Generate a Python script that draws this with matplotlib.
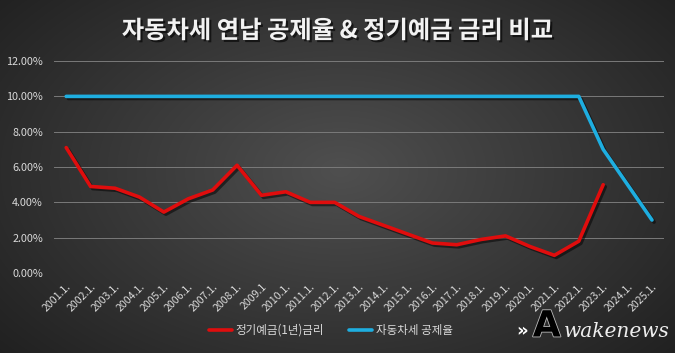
import numpy as np
import matplotlib as mpl
mpl.use("Agg")
import matplotlib.pyplot as plt
import matplotlib.patheffects as pe
from matplotlib.ticker import PercentFormatter

plt.rcParams["font.family"] = ["Noto Sans CJK KR", "DejaVu Sans"]

# --- data ---
years = ["2001.1.", "2002.1.", "2003.1.", "2004.1.", "2005.1.", "2006.1.",
         "2007.1.", "2008.1.", "2009.1", "2010.1.", "2011.1.", "2012.1.",
         "2013.1.", "2014.1.", "2015.1.", "2016.1.", "2017.1.", "2018.1.",
         "2019.1.", "2020.1.", "2021.1.", "2022.1.", "2023.1.", "2024.1.",
         "2025.1."]
deposit_rate = [7.1, 4.9, 4.8, 4.3, 3.45, 4.2, 4.7, 6.1, 4.4, 4.6, 4.0, 4.0,
                3.2, 2.7, 2.2, 1.7, 1.6, 1.9, 2.1, 1.5, 1.0, 1.8, 5.0,
                np.nan, np.nan]
car_tax_discount = [10.0] * 22 + [7.0, 5.0, 3.0]

RED = "#e00d0d"
BLUE = "#1eaee0"
TXT = "#d9d9d9"

fig = plt.figure(figsize=(6.75, 3.53), dpi=100)

# dark radial background
bg = fig.add_axes([0, 0, 1, 1], zorder=-10)
yy, xx = np.mgrid[0:353, 0:675]
r = np.sqrt(((xx - 340) / 420.0) ** 2 + ((yy - 170) / 260.0) ** 2)
shade = np.clip(0.31 - 0.17 * r, 0.12, 0.33)
bg.imshow(np.dstack([shade] * 3), aspect="auto", extent=[0, 1, 0, 1])
bg.axis("off")

ax = fig.add_axes([0.08, 0.2266, 0.904, 0.6004])
ax.set_facecolor("none")
x = np.arange(len(years))
shadow = [pe.SimpleLineShadow(offset=(1.5, -1.5), shadow_color="black", alpha=0.5), pe.Normal()]
ax.plot(x, car_tax_discount, color=BLUE, lw=2.6, solid_capstyle="round",
        solid_joinstyle="round", path_effects=shadow, label="자동차세 공제율", zorder=3)
ax.plot(x, deposit_rate, color=RED, lw=2.6, solid_capstyle="round",
        solid_joinstyle="round", path_effects=shadow, label="정기예금(1년)금리", zorder=3)

ax.set_xlim(-0.5, len(years) - 0.5)
ax.set_ylim(0, 12)
ax.set_yticks(np.arange(0, 13, 2))
ax.yaxis.set_major_formatter(PercentFormatter(decimals=2))
ax.grid(axis="y", color="#7a7a7a", lw=0.7)
ax.set_axisbelow(True)
for s in ax.spines.values():
    s.set_visible(False)
ax.tick_params(length=0, colors=TXT, labelsize=7.8)
ax.tick_params(axis="y", pad=8)
ax.set_xticks(x)
ax.set_xticklabels(years, rotation=45, ha="right", rotation_mode="anchor", fontsize=7.6)
ax.tick_params(axis="x", pad=6)

handles, labels = ax.get_legend_handles_labels()
leg = fig.legend(handles[::-1], labels[::-1], loc="center", bbox_to_anchor=(0.49, 0.065),
                 ncol=2, frameon=False, fontsize=8.3, handlelength=2.0,
                 handletextpad=0.3, columnspacing=2.2, labelcolor=TXT)
for h in leg.legend_handles:
    h.set_path_effects([])

fig.text(0.5, 0.912, "자동차세 연납 공제율 & 정기예금 금리 비교", ha="center", va="center",
         fontsize=17.5, fontweight="bold", color="#f2f2f2",
         path_effects=[pe.withSimplePatchShadow(offset=(1.5, -1.5), shadow_rgbFace="black", alpha=0.6)])

# watermark
fig.text(0.773, 0.062, "»", ha="center", va="center", fontsize=13, color="white",
         fontweight="bold", family="DejaVu Sans")
fig.text(0.81, 0.075, "A", ha="center", va="center", fontsize=26, color="black",
         fontweight="bold", family="DejaVu Sans",
         path_effects=[pe.withStroke(linewidth=1.2, foreground="#bbbbbb")])
fig.text(0.835, 0.062, "wakenews", ha="left", va="center", fontsize=14.5, color="#eeeeee",
         style="italic", family="DejaVu Serif")

fig.savefig("out.png", dpi=100, facecolor="#2a2a2a")
